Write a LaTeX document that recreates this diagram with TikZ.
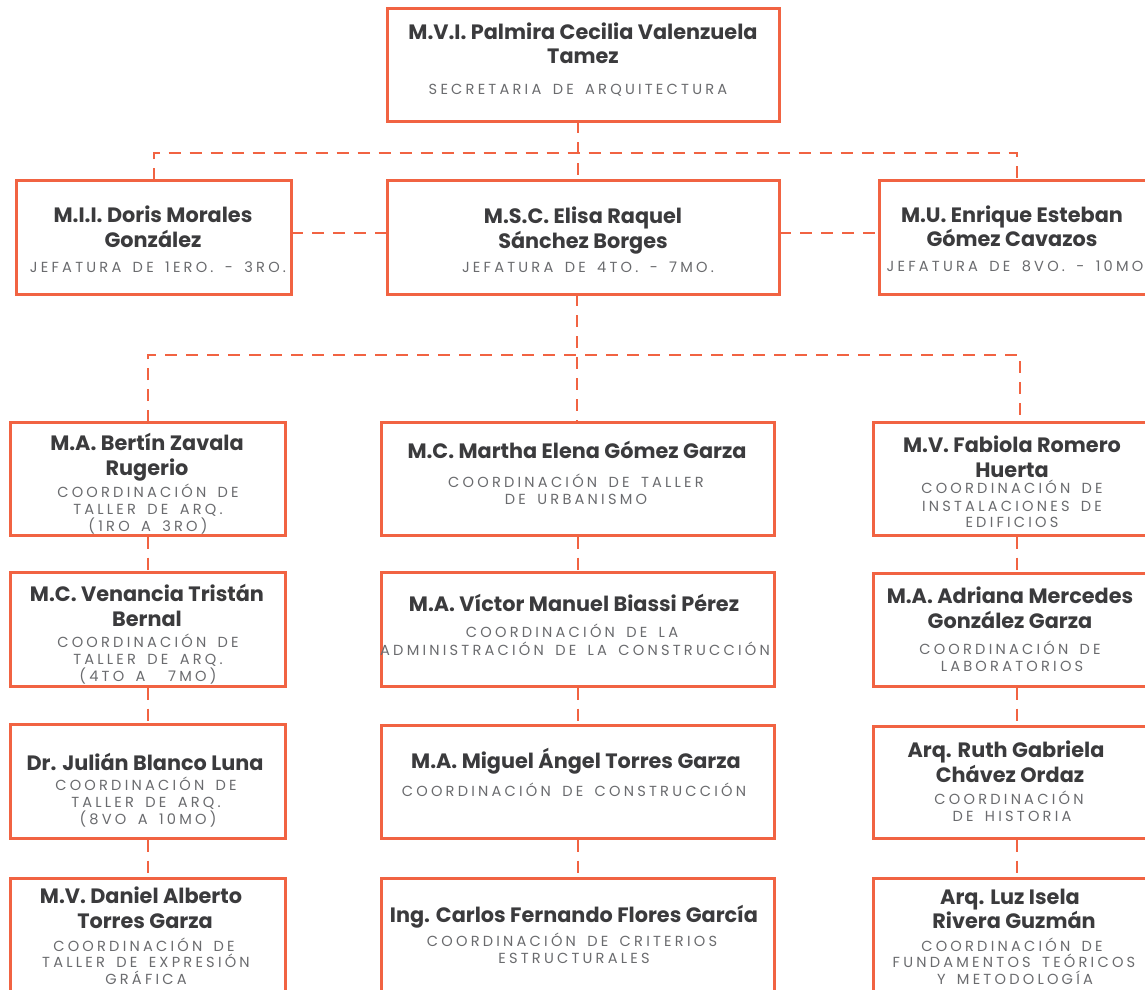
\documentclass[tikz,border=0pt]{standalone}
\usepackage{fontspec}
\newfontfamily\ttlfont{Poppins}
\newfontfamily\subfont{Poppins}[LetterSpace=22,WordSpace=1.6]
\definecolor{orgc}{RGB}{241,99,66}
\definecolor{txtc}{RGB}{59,59,61}
\definecolor{subc}{RGB}{106,107,110}
\tikzset{
  box/.style={draw=orgc, line width=3pt, inner sep=0pt, fill=white},
  conn/.style={draw=orgc, line width=2pt, dash pattern=on 12pt off 9pt},
  ttl/.style={font=\ttlfont\bfseries\fontsize{20.8}{24}\selectfont, text=txtc, anchor=base, inner sep=0pt},
  sub/.style={font=\subfont\fontsize{14.6}{17}\selectfont, text=subc, anchor=base, inner sep=0pt},
}
\newcommand\Tn[4]{\node[ttl] (#1) at (#2,#3) {#4};}
\newcommand\Sn[4]{\node[sub] (#1) at (#2,#3) {#4};}
\newcommand\Bx[5]{\node[box, minimum width={#4-#2}, minimum height={#5-#3}] (#1) at ({(#2+#4)/2},{(#3+#5)/2}) {};}
\begin{document}
\begin{tikzpicture}[x=1pt,y=-1pt]
\useasboundingbox (0,0) rectangle (1145,989);
\clip (0,0) rectangle (1145,989);
\fill[white] (0,0) rectangle (1145,989);
% coordinates for buses
\coordinate (bus1) at (578,153);
\coordinate (hy) at (0,233);
\coordinate (bl) at (148,355);
\coordinate (bm) at (577,355);
\coordinate (br) at (1020,355);
\coordinate (rx) at (1017,0);
% connectors (drawn first, boxes on top)
\draw[conn] (578,121) -- (578,180);
\draw[conn] (153.5,180) |- (bus1) -| (1016.5,180);
\draw[conn] (291,233) -- (387,233);
\draw[conn] (779,233) -- (879,233);
\draw[conn] (577,294) -- (bm) -- (577,422);
\draw[conn] (148,422) -- (bl) -- (br) -- (1020,422);
% boxes
\Bx{top}{387}{8}{779}{121}
\Bx{ljef}{16}{180}{291}{294}
\Bx{mjef}{387}{180}{779}{294}
\Bx{rjef}{879}{180}{1154}{294}
\Bx{l1}{10}{422}{285}{535}
\Bx{m1}{381}{422}{774}{535}
\Bx{r1}{873}{422}{1151}{535}
\Bx{l2}{10}{572}{285}{686}
\Bx{m2}{381}{572}{774}{686}
\Bx{r2}{873}{573}{1151}{686}
\Bx{l3}{10}{724}{285}{838}
\Bx{m3}{381}{725}{774}{838}
\Bx{r3}{873}{726}{1151}{838}
\Bx{l4}{10}{878}{285}{1004}
\Bx{m4}{381}{878}{774}{1004}
\Bx{r4}{873}{878}{1151}{1004}
% column connectors
\draw[conn] (l1.south) -- (l2.north);
\draw[conn] (l2.south) -- (l3.north);
\draw[conn] (l3.south) -- (l4.north);
\draw[conn] (m1.south) -- (m2.north);
\draw[conn] (m2.south) -- (m3.north);
\draw[conn] (m3.south) -- (m4.north);
\draw[conn] (r1.south -| rx) -- (r2.north -| rx);
\draw[conn] (r2.south -| rx) -- (r3.north -| rx);
\draw[conn] (r3.south -| rx) -- (r4.north -| rx);
% texts: top
\Tn{t0a}{583}{39}{M.V.I. Palmira Cecilia Valenzuela}
\Tn{t0b}{583}{63}{Tamez}
\Sn{s0a}{578}{94}{SECRETARIA DE ARQUITECTURA}
% jefaturas
\Tn{tla}{153}{222}{M.I.I. Doris Morales}
\Tn{tlb}{153}{247}{González}
\Sn{sla}{158}{272}{JEFATURA DE 1ERO. - 3RO.}
\Tn{tma}{583}{223}{M.S.C. Elisa Raquel}
\Tn{tmb}{583}{248}{Sánchez Borges}
\Sn{sma}{588}{272}{JEFATURA DE 4TO. - 7MO.}
\Tn{tra}{1012}{222}{M.U. Enrique Esteban}
\Tn{trb}{1012}{246}{Gómez Cavazos}
\Sn{sra}{1015}{271}{JEFATURA DE 8VO. - 10MO}
% row 1
\Tn{t1la}{147}{450}{M.A. Bertín Zavala}
\Tn{t1lb}{147}{475}{Rugerio}
\Sn{s1la}{148}{497}{COORDINACIÓN DE}
\Sn{s1lb}{148}{514}{TALLER DE ARQ.}
\Sn{s1lc}{148}{531}{(1RO A 3RO)}
\Tn{t1ma}{577}{458}{M.C. Martha Elena Gómez Garza}
\Sn{s1ma}{576}{487}{COORDINACIÓN DE TALLER}
\Sn{s1mb}{576}{504}{DE URBANISMO}
\Tn{t1ra}{1012}{452}{M.V. Fabiola Romero}
\Tn{t1rb}{1012}{477}{Huerta}
\Sn{s1ra}{1012}{493}{COORDINACIÓN DE}
\Sn{s1rb}{1012}{511}{INSTALACIONES DE}
\Sn{s1rc}{1012}{527}{EDIFICIOS}
% row 2
\Tn{t2la}{147}{601}{M.C. Venancia Tristán}
\Tn{t2lb}{147}{626}{Bernal}
\Sn{s2la}{148}{647}{COORDINACIÓN DE}
\Sn{s2lb}{148}{664}{TALLER DE ARQ.}
\Sn{s2lc}{148}{681}{(4TO A \ 7MO)}
\Tn{t2ma}{574}{611}{M.A. Víctor Manuel Biassi Pérez}
\Sn{s2ma}{572}{637}{COORDINACIÓN DE LA}
\Sn{s2mb}{575}{655}{ADMINISTRACIÓN DE LA CONSTRUCCIÓN}
\Tn{t2ra}{1010}{603}{M.A. Adriana Mercedes}
\Tn{t2rb}{1010}{628}{González Garza}
\Sn{s2ra}{1010}{654}{COORDINACIÓN DE}
\Sn{s2rb}{1012}{671}{LABORATORIOS}
% row 3
\Tn{t3la}{145}{770}{Dr. Julián Blanco Luna}
\Sn{s3la}{146}{790}{COORDINACIÓN DE}
\Sn{s3lb}{146}{807}{TALLER DE ARQ.}
\Sn{s3lc}{148}{824}{(8VO A 10MO)}
\Tn{t3ma}{576}{768}{M.A. Miguel Ángel Torres Garza}
\Sn{s3ma}{574}{796}{COORDINACIÓN DE CONSTRUCCIÓN}
\Tn{t3ra}{1006}{757}{Arq. Ruth Gabriela}
\Tn{t3rb}{1010}{782}{Chávez Ordaz}
\Sn{s3ra}{1009}{804}{COORDINACIÓN}
\Sn{s3rb}{1012}{821}{DE HISTORIA}
% row 4
\Tn{t4la}{141}{903}{M.V. Daniel Alberto}
\Tn{t4lb}{145}{928}{Torres Garza}
\Sn{s4la}{144}{951}{COORDINACIÓN DE}
\Sn{s4lb}{146}{967}{TALLER DE EXPRESIÓN}
\Sn{s4lc}{146}{984}{GRÁFICA}
\Tn{t4ma}{574}{922}{Ing. Carlos Fernando Flores García}
\Sn{s4ma}{572}{946}{COORDINACIÓN DE CRITERIOS}
\Sn{s4mb}{574}{963}{ESTRUCTURALES}
\Tn{t4ra}{1010}{904}{Arq. Luz Isela}
\Tn{t4rb}{1014}{928}{Rivera Guzmán}
\Sn{s4ra}{1012}{951}{COORDINACIÓN DE}
\Sn{s4rb}{1014}{967}{FUNDAMENTOS TEÓRICOS}
\Sn{s4rc}{1015}{984}{Y METODOLOGÍA}
\end{tikzpicture}
\end{document}
